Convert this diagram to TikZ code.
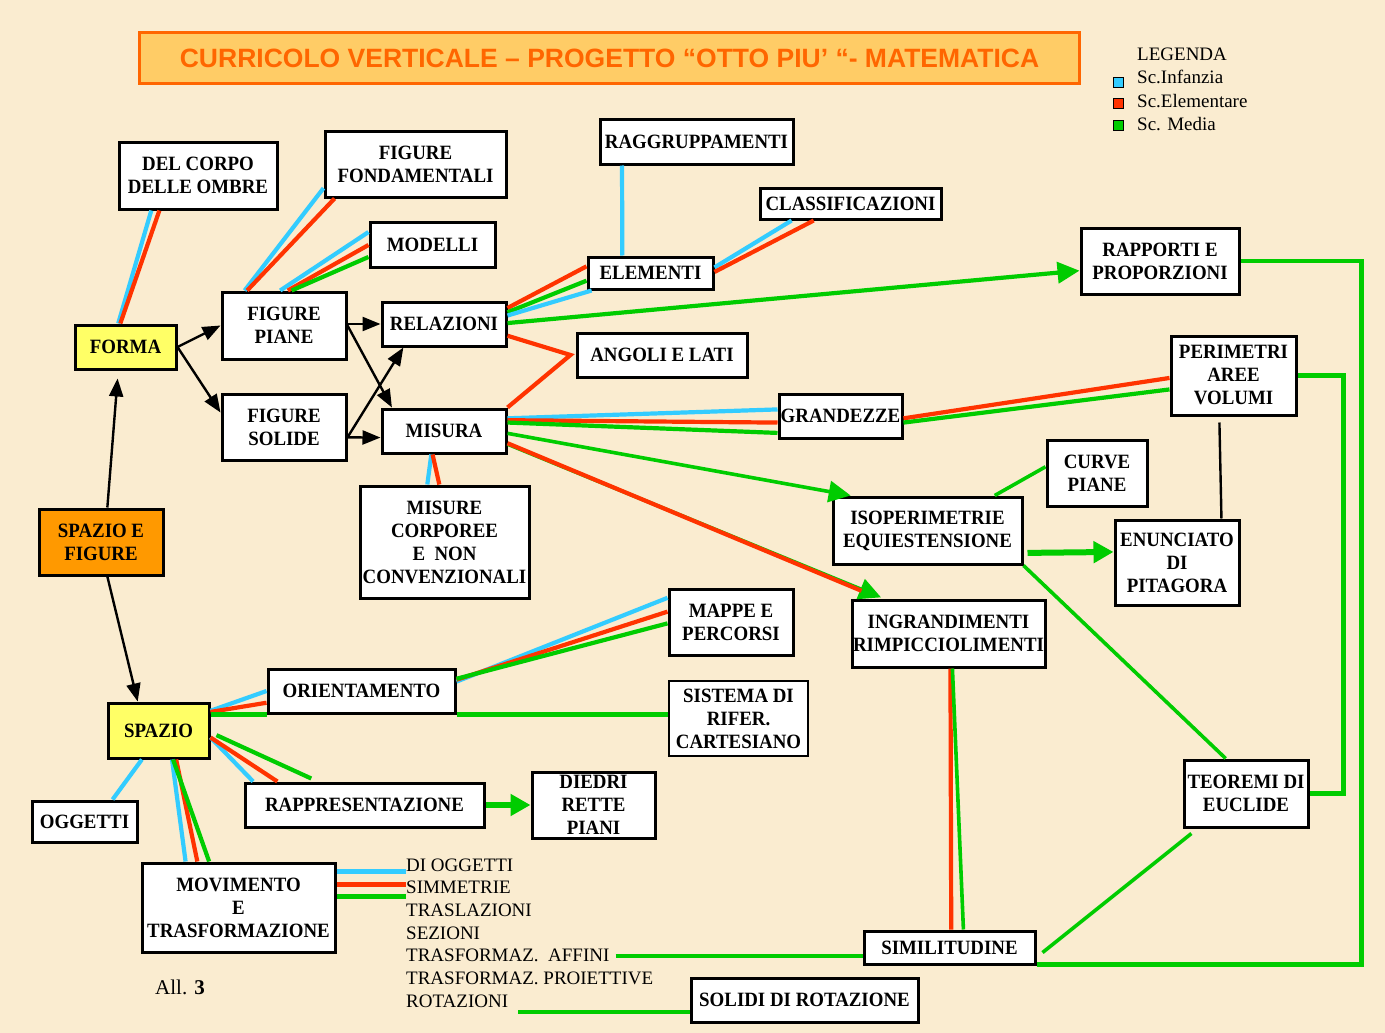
\documentclass[tikz,border=0pt]{standalone}
\usepackage{fontspec}
\setmainfont{Liberation Serif}
\newfontfamily\boxfont{Liberation Serif}[FakeStretch=0.93]
\newfontfamily\titlefont{Liberation Sans}
\usetikzlibrary{positioning, calc, arrows.meta}

\definecolor{Parchment}{RGB}{250,236,208}
\definecolor{SkyLine}{RGB}{51,204,255}
\definecolor{RedLine}{RGB}{255,51,0}
\definecolor{GreenLine}{RGB}{0,204,0}
\definecolor{TitleFill}{RGB}{255,204,102}
\definecolor{TitleDraw}{RGB}{255,102,0}
\definecolor{FormaYellow}{RGB}{255,255,102}
\definecolor{SpazioOrange}{RGB}{255,153,0}

\begin{document}
\begin{tikzpicture}[
    x=1pt, y=-1pt,
    >={Triangle[length=18pt,width=14pt]},
    every edge/.style={draw, line width=4.2pt},
    cyanline/.style={draw=SkyLine},
    redline/.style={draw=RedLine},
    greenline/.style={draw=GreenLine},
    blackarrow/.style={->, draw=black, line width=2.4pt},
    greenarrow/.style={-{Triangle[length=22pt,width=21pt]}, draw=GreenLine},
    fatarrow/.style={-{Triangle[length=20pt,width=21pt]}, draw=GreenLine, line width=6pt},
    boxsize/.style 2 args={minimum width=#1pt, minimum height=#2pt},
    cmpt/.style={draw, line width=3pt, fill=white, align=center, inner sep=0pt, font=\boxfont\bfseries\fontsize{20.3}{23}\selectfont},
    listitem/.style={anchor=base west, inner sep=0pt, font=\fontsize{19}{23}\selectfont},
    legsq/.style={draw=black, line width=0.8pt, minimum size=10pt, inner sep=0pt}]

    \fill[Parchment] (0,0) rectangle (1385,1033);
    \useasboundingbox (0,0) rectangle (1385,1033);

    %%% Title and legend
    \node[draw=TitleDraw, fill=TitleFill, line width=3.5pt, boxsize={940}{51}, inner sep=0pt, text=TitleDraw,
          font=\titlefont\bfseries\fontsize{26.5}{30}\selectfont] (title) at (609.5,58)
          {CURRICOLO VERTICALE – PROGETTO “OTTO PIU’ “- MATEMATICA};

    \node[listitem] (legenda) at (1137,61) {LEGENDA};
    \node[listitem] (leginf) at (1137,84) {Sc.Infanzia};
    \node[listitem] (legele) at (1137,107) {Sc.Elementare};
    \node[listitem] (legmed) at (1137,130) {Sc. Media};
    \node[legsq, fill=SkyLine] (sqinf) at (1118.5,82) {};
    \node[legsq, fill=RedLine] (sqele) at (1118.5,103) {};
    \node[legsq, fill=GreenLine] (sqmed) at (1118.5,125) {};

    %%% Components
    \node[cmpt, boxsize={124}{66}, fill=SpazioOrange] (spazioefig) at (101,542) {SPAZIO E\\FIGURE};
    \node[cmpt, boxsize={101}{44}, fill=FormaYellow] (forma) at (125.5,347) {FORMA};
    \node[cmpt, boxsize={101}{55}, fill=FormaYellow] (spazio) at (158.5,730.5) {SPAZIO};

    \node[cmpt, boxsize={158}{67}] (delcorpo) at (198,175.5) {DEL CORPO\\DELLE OMBRE};
    \node[cmpt, boxsize={181}{66}] (figfond) at (415.5,164) {FIGURE\\FONDAMENTALI};
    \node[cmpt, boxsize={125}{45}] (modelli) at (432.5,244.5) {MODELLI};
    \node[cmpt, boxsize={124}{67}] (figpiane) at (284,325.5) {FIGURE\\PIANE};
    \node[cmpt, boxsize={124}{66}, below=32pt of figpiane] (figsolide) {FIGURE\\SOLIDE};
    \node[cmpt, boxsize={124}{44}] (relazioni) at (444,324) {RELAZIONI};
    \node[cmpt, boxsize={124}{44}, below=60pt of relazioni] (misura) {MISURA};
    \node[cmpt, boxsize={169}{112}] (misure) at (444.5,542) {MISURE\\CORPOREE\\E\ \ NON\\CONVENZIONALI};

    \node[cmpt, boxsize={193}{45}] (raggr) at (696.5,141.5) {RAGGRUPPAMENTI};
    \node[cmpt, boxsize={181}{31}] (classif) at (850.5,203.5) {CLASSIFICAZIONI};
    \node[cmpt, boxsize={125}{32}] (elementi) at (650.5,273) {ELEMENTI};
    \node[cmpt, boxsize={170}{44}] (angoli) at (662,355) {ANGOLI E LATI};
    \node[cmpt, boxsize={123}{44}] (grandezze) at (840.5,416) {GRANDEZZE};
    \node[cmpt, boxsize={158}{66}] (rapporti) at (1160,261) {RAPPORTI E\\PROPORZIONI};
    \node[cmpt, boxsize={125}{79}] (perimetri) at (1233.5,375.5) {PERIMETRI\\AREE\\VOLUMI};
    \node[cmpt, boxsize={100}{66}] (curve) at (1097,473) {CURVE\\PIANE};
    \node[cmpt, boxsize={189}{67}] (isoper) at (927.5,530.5) {ISOPERIMETRIE\\EQUIESTENSIONE};
    \node[cmpt, boxsize={124}{85}] (enunciato) at (1177,562.5) {ENUNCIATO\\DI\\PITAGORA};
    \node[cmpt, boxsize={193}{67}] (ingrand) at (948.5,633.5) {INGRANDIMENTI\\RIMPICCIOLIMENTI};
    \node[cmpt, boxsize={124}{67}] (teoremi) at (1246,793.5) {TEOREMI DI\\EUCLIDE};
    \node[cmpt, boxsize={171}{33}] (similitudine) at (949.5,947.5) {SIMILITUDINE};
    \node[cmpt, boxsize={227}{44}] (solidi) at (804.5,1000) {SOLIDI DI ROTAZIONE};

    \node[cmpt, boxsize={124}{66}] (mappe) at (731,622) {MAPPE E\\PERCORSI};
    \node[cmpt, boxsize={187}{44}] (orient) at (361.5,691) {ORIENTAMENTO};
    \node[cmpt, boxsize={139}{75}, line width=1.4pt] (sistema) at (738.5,718.5) {SISTEMA DI\\RIFER.\\CARTESIANO};
    \node[cmpt, boxsize={239}{44}] (rappr) at (364.5,805) {RAPPRESENTAZIONE};
    \node[cmpt, boxsize={123}{66}] (diedri) at (593.5,805) {DIEDRI\\RETTE\\PIANI};
    \node[cmpt, boxsize={105}{41}] (oggetti) at (84.5,821.5) {OGGETTI};
    \node[cmpt, boxsize={193}{89}] (movimento) at (238.5,907.5) {MOVIMENTO\\E\\TRASFORMAZIONE};

    \foreach \t [count=\i] in {DI OGGETTI, SIMMETRIE, TRASLAZIONI, SEZIONI, TRASFORMAZ.\ \ AFFINI, TRASFORMAZ. PROIETTIVE, ROTAZIONI}
        \node[listitem] (li\i) at (406,{871+22.7*(\i-1)}) {\t};

    \node[anchor=base west, inner sep=0pt, font=\fontsize{21}{24}\selectfont] (allegato) at (155,994) {All. \textbf{3}};

    %%% Forma
    \path ($(forma.north west)!0.43!(forma.north east)$) edge [cyanline] ($(delcorpo.south west)!0.21!(delcorpo.south east)$);
    \path ($(forma.north west)!0.45!(forma.north east)$) edge [redline] ($(delcorpo.south west)!0.26!(delcorpo.south east)$);

    \path ($(figpiane.north west)!0.19!(figpiane.north east)$) edge [cyanline] ($(figfond.north west)!0.85!(figfond.south west)$);
    \path ($(figpiane.north west)!0.21!(figpiane.north east)$) edge [redline] ($(figfond.south west)!0.06!(figfond.south east)$);

    \path ($(figpiane.north west)!0.47!(figpiane.north east)$) edge [cyanline] ($(modelli.north west)!0.24!(modelli.south west)$);
    \path ($(figpiane.north west)!0.53!(figpiane.north east)$) edge [redline] ($(modelli.north west)!0.51!(modelli.south west)$);
    \path ($(figpiane.north west)!0.56!(figpiane.north east)$) edge [greenline] ($(modelli.north west)!0.76!(modelli.south west)$);

    \path (forma.east) edge [blackarrow] (figpiane.west);
    \path (forma.east) edge [blackarrow] ($(figsolide.north west)!0.29!(figsolide.south west)$);
    \path (figpiane.east |- relazioni.west) edge [blackarrow] (relazioni.west);
    \path (figpiane.east) edge [blackarrow] ($(misura.north west)!0.09!(misura.north east)$);
    \path ($(figsolide.north east)!0.65!(figsolide.south east)$) edge [blackarrow] ($(relazioni.south west)!0.18!(relazioni.south east)$);
    \path ($(figsolide.north east)!0.65!(figsolide.south east)$) edge [blackarrow] ($(misura.north west)!0.64!(misura.south west)$);

    \path ($(spazioefig.north west)!0.55!(spazioefig.north east)$) edge [blackarrow, shorten >=8pt] ($(forma.south west)!0.43!(forma.south east)$);
    \path ($(spazioefig.south west)!0.55!(spazioefig.south east)$) edge [blackarrow] ($(spazio.north west)!0.30!(spazio.north east)$);

    %%% Relazioni and misura
    \path ($(relazioni.north east)!0.16!(relazioni.south east)$) edge [redline] ($(elementi.north west)!0.31!(elementi.south west)$);
    \path ($(relazioni.north east)!0.25!(relazioni.south east)$) edge [greenline] ($(elementi.north west)!0.72!(elementi.south west)$);
    \path ($(relazioni.north east)!0.32!(relazioni.south east)$) edge [cyanline] ($(elementi.south west)!0.04!(elementi.south east)$);
    \path ($(relazioni.north east)!0.48!(relazioni.south east)$) edge [greenarrow] ($(rapporti.north west)!0.64!(rapporti.south west)$);
    \draw[RedLine, line width=4.2pt] ($(relazioni.north east)!0.75!(relazioni.south east)$) -- ([xshift=-5pt]angoli.west) -- (misura.north east);

    \path ($(raggr.south west)!0.12!(raggr.south east)$) edge [cyanline] ($(elementi.north west)!0.28!(elementi.north east)$);
    \path ($(elementi.north east)!0.34!(elementi.south east)$) edge [cyanline] ($(classif.south west)!0.18!(classif.south east)$);
    \path ($(elementi.north east)!0.47!(elementi.south east)$) edge [redline] ($(classif.south west)!0.30!(classif.south east)$);

    \path ($(misura.north east)!0.23!(misura.south east)$) edge [cyanline] ($(grandezze.north west)!0.36!(grandezze.south west)$);
    \path ($(misura.north east)!0.27!(misura.south east)$) edge [redline] ($(grandezze.north west)!0.64!(grandezze.south west)$);
    \path ($(misura.north east)!0.32!(misura.south east)$) edge [greenline] ($(grandezze.north west)!0.86!(grandezze.south west)$);
    \path ($(misura.north east)!0.55!(misura.south east)$) edge [greenarrow, line width=3.6pt] ($(isoper.north west)!0.10!(isoper.north east)$);
    \path ($(misura.north east)!0.78!(misura.south east)$) edge [greenarrow, line width=3.6pt, shorten >=3pt] ($(ingrand.north west)!0.17!(ingrand.north east)$);
    \path ($(misura.north east)!0.76!(misura.south east)$) edge [redline, shorten >=20pt] ($(ingrand.north west)!0.15!(ingrand.north east)$);

    \path ($(misura.south west)!0.40!(misura.south east)$) edge [cyanline] ($(misure.north west)!0.40!(misure.north east)$);
    \path ($(misura.south west)!0.41!(misura.south east)$) edge [redline] ($(misure.north west)!0.47!(misure.north east)$);

    %%% Grandezze, isoperimetrie, similitudine
    \path ($(grandezze.north east)!0.55!(grandezze.south east)$) edge [redline] ($(perimetri.north west)!0.53!(perimetri.south west)$);
    \path ($(grandezze.north east)!0.64!(grandezze.south east)$) edge [greenline] ($(perimetri.north west)!0.67!(perimetri.south west)$);
    \path ($(enunciato.north west)!0.85!(enunciato.north east)$) edge [draw=black, line width=2.4pt] ($(perimetri.south west)!0.39!(perimetri.south east)+(0,6)$);
    \path ($(curve.north west)!0.41!(curve.south west)$) edge [greenline, line width=3.6pt] ($(isoper.north west)!0.85!(isoper.north east)$);
    \path ($(isoper.north east)!0.82!(isoper.south east)+(4,0)$) edge [fatarrow] ($(enunciato.north west)!0.38!(enunciato.south west)$);
    \path (isoper.south east) edge [greenline, line width=3.6pt] ($(teoremi.north west)!0.34!(teoremi.north east)$);

    \draw[GreenLine, line width=4.6pt] (rapporti.east) -- ++(121,0) |- ($(similitudine.north east)!0.97!(similitudine.south east)$);
    \draw[GreenLine, line width=4.4pt] (perimetri.east) -- ++(46,0) |- (teoremi.east);
    \path ($(teoremi.south west)!0.07!(teoremi.south east)+(0,5)$) edge [greenline, line width=3.6pt] ($(similitudine.north east)!0.64!(similitudine.south east)+(6,0)$);

    \path ($(ingrand.south west)!0.51!(ingrand.south east)$) edge [redline] ($(similitudine.north west)!0.51!(similitudine.north east)$);
    \path ($(ingrand.south west)!0.52!(ingrand.south east)$) edge [greenline, line width=3.6pt] ($(similitudine.north west)!0.58!(similitudine.north east)$);

    %%% Spazio
    \path ($(spazio.north east)!0.16!(spazio.south east)$) edge [cyanline] (orient.west);
    \path ($(spazio.north east)!0.18!(spazio.south east)$) edge [redline] ($(orient.north west)!0.75!(orient.south west)$);
    \path (spazio.east |- orient.south west) edge [greenline] (orient.south west);
    \path (orient.south east) edge [greenline] (sistema.west |- orient.south east);

    \path ($(orient.north east)!0.30!(orient.south east)$) edge [cyanline] ($(mappe.north west)!0.15!(mappe.south west)$);
    \path ($(orient.north east)!0.26!(orient.south east)$) edge [redline] ($(mappe.north west)!0.35!(mappe.south west)$);
    \path ($(orient.north east)!0.24!(orient.south east)$) edge [greenline] ($(mappe.north west)!0.52!(mappe.south west)$);

    \path ($(spazio.north east)!0.62!(spazio.south east)$) edge [cyanline] ($(rappr.north west)!0.04!(rappr.north east)$);
    \path ($(spazio.north east)!0.62!(spazio.south east)$) edge [redline] ($(rappr.north west)!0.14!(rappr.north east)$);
    \path ($(spazio.north east)!0.58!(spazio.south east)+(6,0)$) edge [greenline] ($(rappr.north west)!0.28!(rappr.north east)+(0,-3)$);
    \path (rappr.east) edge [fatarrow] (diedri.west);

    \path ($(spazio.south west)!0.34!(spazio.south east)$) edge [cyanline] ($(oggetti.north west)!0.76!(oggetti.north east)$);

    \path ($(spazio.south west)!0.63!(spazio.south east)$) edge [cyanline] ($(movimento.north west)!0.23!(movimento.north east)$);
    \path ($(spazio.south west)!0.67!(spazio.south east)$) edge [redline] ($(movimento.north west)!0.29!(movimento.north east)$);
    \path ($(spazio.south west)!0.64!(spazio.south east)$) edge [greenline] ($(movimento.north west)!0.35!(movimento.north east)$);

    %%% Movimento e trasformazione
    \path ($(movimento.north east)!0.11!(movimento.south east)$) coordinate (mvc) edge [cyanline, line width=5pt] (mvc -| li1.west);
    \path ($(movimento.north east)!0.25!(movimento.south east)$) coordinate (mvr) edge [redline, line width=5pt] (mvr -| li1.west);
    \path ($(movimento.north east)!0.38!(movimento.south east)$) coordinate (mvg) edge [greenline, line width=5pt] (mvg -| li1.west);

    \path ($(li5.east)+(6,0)$) edge [greenline] (li5.east -| similitudine.west);
    \path ($(solidi.north west)!0.75!(solidi.south west)$) coordinate (sox) edge [greenline] ($(li7.east |- sox)+(10,0)$);

\end{tikzpicture}
\end{document}
